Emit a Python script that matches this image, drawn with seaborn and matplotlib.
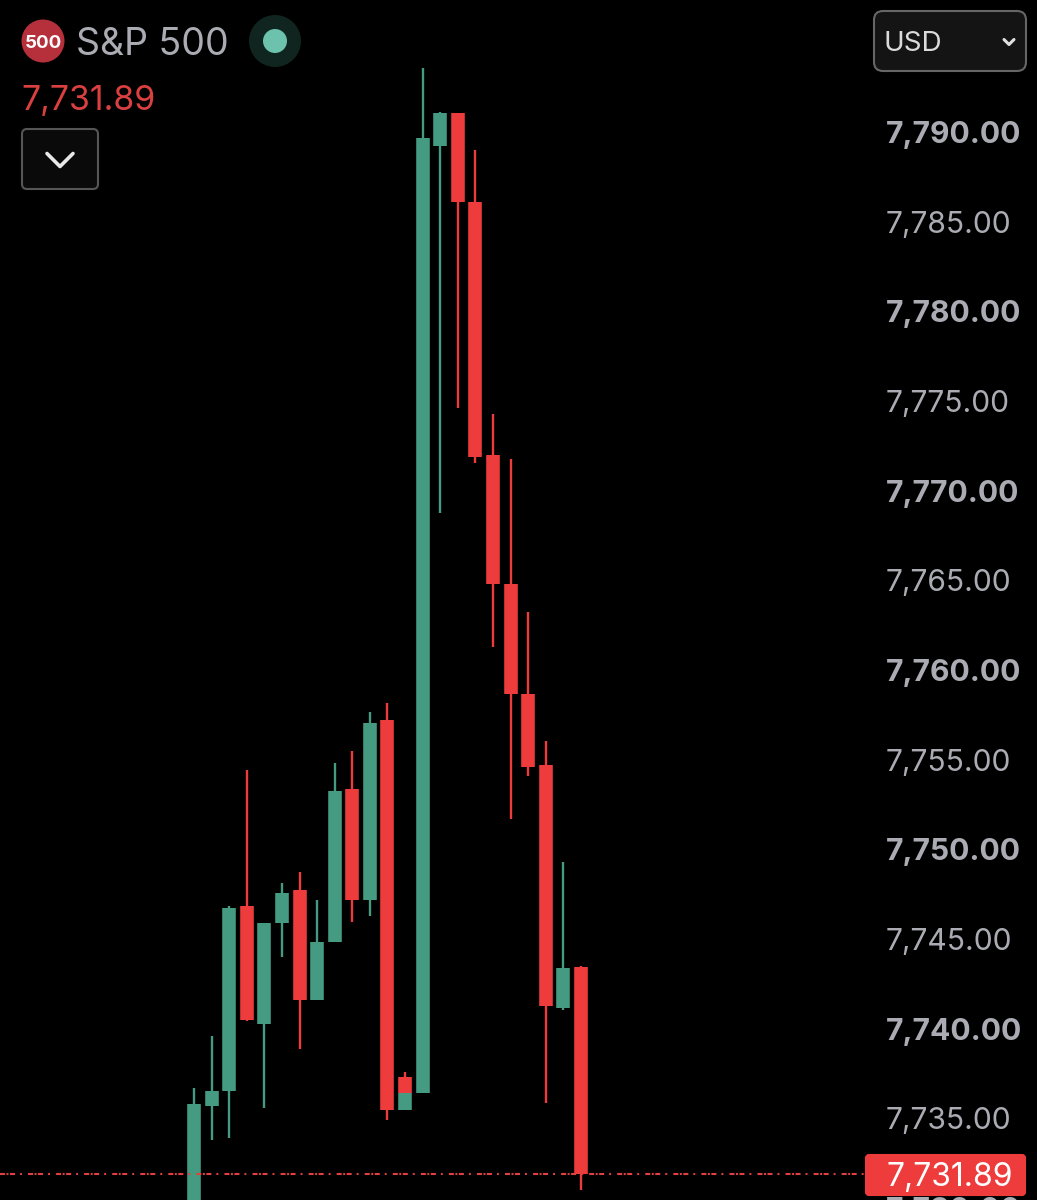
import matplotlib
matplotlib.use("Agg")
import matplotlib.pyplot as plt
import pandas as pd
import seaborn as sns
from matplotlib.lines import Line2D
from matplotlib.patches import Circle, FancyBboxPatch
from matplotlib.transforms import Affine2D

# candle values (slot 12 holds two overlapping candles)
slots = [0, 1, 2, 3, 4, 5, 6, 7, 8, 9, 10, 11, 12, 12, 13, 14, 15, 16, 17, 18, 19, 20, 21, 22]
opens = [7726.00, 7735.70, 7736.52, 7746.83, 7740.27, 7745.89, 7747.73, 7741.61,
         7744.83, 7753.34, 7747.17, 7757.21, 7735.47, 7737.31, 7736.42, 7789.22,
         7791.04, 7786.08, 7771.99, 7764.79, 7758.63, 7754.70, 7741.17, 7743.45]
closes = [7735.79, 7736.53, 7746.72, 7740.48, 7745.90, 7747.56, 7741.61, 7744.83,
          7753.25, 7747.17, 7757.06, 7735.47, 7736.42, 7736.42, 7789.67, 7791.04,
          7786.08, 7771.87, 7764.79, 7758.63, 7754.59, 7741.27, 7743.38, 7731.89]
highs = [7736.68, 7739.58, 7746.83, 7754.42, 7745.90, 7748.12, 7748.75, 7747.17,
         7754.83, 7755.50, 7757.65, 7758.16, 7736.42, 7737.59, 7793.59, 7791.10,
         7791.04, 7789.00, 7774.27, 7771.75, 7763.23, 7756.04, 7749.26, 7743.50]
lows = [7725.00, 7733.78, 7733.90, 7740.44, 7735.57, 7743.99, 7738.88, 7741.61,
        7744.83, 7745.96, 7746.28, 7734.90, 7735.47, 7736.35, 7736.42, 7768.77,
        7774.62, 7771.56, 7761.30, 7751.69, 7754.08, 7735.85, 7741.03, 7731.00]

tick_values = [7790, 7785, 7780, 7775, 7770, 7765, 7760, 7755, 7750, 7745, 7740, 7735, 7730]
last_price = 7731.89

GREEN = "#459A82"
RED = "#EE3B3B"
GREY = "#ABACB3"
W, H = 1037, 1200

plt.rcParams["lines.scale_dashes"] = False
sns.set_theme(style="dark", rc={"figure.facecolor": "black", "axes.facecolor": "black"})
plt.rcParams["font.family"] = ["Inter", "DejaVu Sans"]

candles = pd.DataFrame({"slot": slots, "open": opens, "close": closes, "high": highs, "low": lows})
candles["candle"] = range(len(candles))
candles["side"] = ["up" if c >= o else "down" for o, c in zip(opens, closes)]
palette = {"up": GREEN, "down": RED}

wicks = candles.melt(id_vars=["candle", "slot", "side"], value_vars=["low", "high"], value_name="price")
bodies = candles.melt(id_vars=["candle", "slot", "side"], value_vars=["open", "close"], value_name="price")

fig = plt.figure(figsize=(W / 100, H / 100), dpi=100)
ax = fig.add_axes([0, 0, 1, 1])

sns.lineplot(data=wicks, x="slot", y="price", hue="side", units="candle", estimator=None,
             palette=palette, linewidth=1.7, solid_capstyle="butt", legend=False, sort=False, ax=ax)
sns.lineplot(data=bodies, x="slot", y="price", hue="side", units="candle", estimator=None,
             palette=palette, linewidth=9.8, solid_capstyle="butt", legend=False, sort=False, ax=ax)

# pixel mapping: slot 0 sits at x=194 with 17.59 px per slot, 7790 at y=132 with 17.93 px per point
ax.set_xlim(-194 / 17.59, (W - 194) / 17.59)
ax.set_ylim(7790 - (H - 132) / 17.93, 7790 + 132 / 17.93)
ax.set_axis_off()

# last price line stops at the tag
ax.plot([ax.get_xlim()[0], (866 - 194) / 17.59], [last_price, last_price], color="#E0403F", lw=1.5,
        linestyle=(0, (3.6, 1.1, 1.4, 1.1, 3.6, 3.6, 1.4, 4.4)), zorder=5)

# price scale
for v in tick_values:
    bold = (v % 10 == 0)
    ax.text(886 / W, v, f"{v:,.2f}", transform=ax.get_yaxis_transform(), color=GREY,
            fontsize=21.6, fontweight="bold" if bold else "normal", va="center_baseline", ha="left",
            clip_on=False)

# everything below is the app chrome, placed in pixels from the top left
px = Affine2D().scale(1 / W, -1 / H).translate(0, 1) + fig.transFigure


def add_box(x0, y0, x1, y1, face, edge, radius, lw=1.5):
    fig.add_artist(FancyBboxPatch((x0, y0), x1 - x0, y1 - y0, boxstyle=f"round,pad=0,rounding_size={radius}",
                                  facecolor=face, edgecolor=edge, linewidth=lw, transform=px))


def add_chevron(cx, cy, half, drop, color, lw):
    fig.add_artist(Line2D([cx - half, cx, cx + half], [cy - drop, cy + drop, cy - drop], color=color,
                          linewidth=lw, transform=px, solid_capstyle="round", solid_joinstyle="round"))


def add_label(x, y, s, size, color, weight="normal", ha="left"):
    fig.text(x / W, 1 - y / H, s, fontsize=size, color=color, fontweight=weight, ha=ha, va="center_baseline")


fig.add_artist(Circle((43, 41), 21.5, facecolor="#B5303A", edgecolor="none", transform=px))
add_label(43, 41, "500", 13.5, "white", weight="bold", ha="center")
add_label(76, 41, "S&P 500", 27, GREY)
fig.add_artist(Circle((275, 41), 26, facecolor="#10251F", edgecolor="none", transform=px))
fig.add_artist(Circle((275, 41), 12, facecolor="#6CC2AD", edgecolor="none", transform=px))
add_label(21, 97, "7,731.89", 24.4, "#D9403F")

add_box(22, 129, 98, 189, "#0A0A0A", "#565656", 5)
add_chevron(60, 160, 13, 6.5, "#E8E8E8", 2.6)

add_box(874, 11, 1026, 71, "#141414", "#666666", 9)
add_label(884, 41, "USD", 20, "#DADADA")
add_chevron(1009, 42, 5, 2.5, "#E0E0E0", 2.2)

add_box(866, 1155, 1025, 1195, RED, RED, 3)
add_label(886, 1174, "7,731.89", 23, "white")

fig.savefig("out.png", dpi=100, facecolor="black")
